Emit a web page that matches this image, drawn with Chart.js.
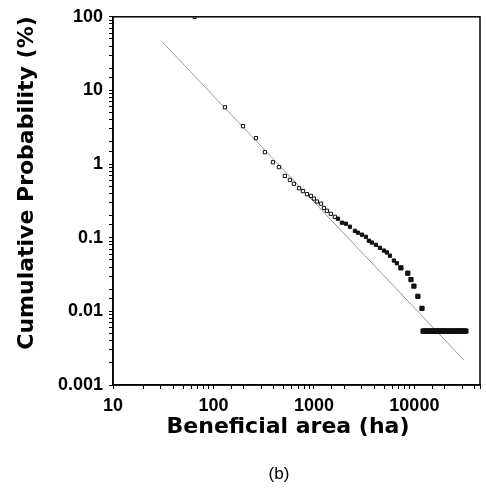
<!DOCTYPE html>
<html>
<head>
<meta charset="utf-8">
<script src="https://cdn.jsdelivr.net/npm/chart.js@4"></script>
<style>
  body { margin: 0; background: #fff; }
  #wrap { position: relative; width: 486px; height: 490px; }
</style>
</head>
<body>
<div id="wrap"><canvas id="chart1" width="486" height="490"></canvas></div>
<script>
// observed points (area in ha, cumulative probability in %)
const areaHa = [65, 130, 197, 265, 325, 391, 449, 514, 577, 632, 710, 778, 852, 934, 1000,
  1071, 1175, 1259, 1347, 1476, 1618, 1734, 1901, 2080, 2282, 2560, 2743, 3007, 3290, 3525,
  3777, 4140, 4540, 4977, 5326, 5708, 6253, 6700, 7345, 8600, 9250, 9900, 10840, 11900,
  12200, 12600, 12900, 13300, 13700, 14100, 14500, 15000, 15400, 15900, 16300, 16800, 17300,
  17800, 18300, 18900, 19400, 20000, 20600, 21200, 21800, 22400, 23100, 23800, 24500, 25200,
  26000, 26700, 27500, 28300, 29200, 30000, 30900, 31700, 32600];
const cumProb = [100, 5.9, 3.27, 2.25, 1.45, 1.06, 0.91, 0.69, 0.61, 0.54, 0.47, 0.43, 0.39, 0.37, 0.34,
  0.31, 0.29, 0.254, 0.232, 0.211, 0.192, 0.181, 0.16, 0.155, 0.141, 0.124, 0.117, 0.11, 0.103, 0.091,
  0.086, 0.08, 0.073, 0.067, 0.063, 0.057, 0.049, 0.045, 0.039, 0.033, 0.027, 0.022, 0.016, 0.011,
  0.0054, 0.0054, 0.0054, 0.0054, 0.0054, 0.0054, 0.0054, 0.0054, 0.0054, 0.0054, 0.0054, 0.0054, 0.0054,
  0.0054, 0.0054, 0.0054, 0.0054, 0.0054, 0.0054, 0.0054, 0.0054, 0.0054, 0.0054, 0.0054, 0.0054, 0.0054,
  0.0054, 0.0054, 0.0054, 0.0054, 0.0054, 0.0054, 0.0054, 0.0054, 0.0054];

// fitted power-law line end points
const fitArea = [30.8, 31100];
const fitProb = [45.9, 0.00218];

const xTitle = "Beneficial area (ha)";
const yTitle = "Cumulative Probability (%)";
const panelLabel = "(b)";

const tickFont = { family: "'Liberation Sans', Arial, sans-serif", size: 18, weight: 'bold' };

function decadeLabel(v) {
  const l = Math.log10(v);
  return Math.abs(l - Math.round(l)) < 1e-6 ? String(v) : '';
}

// frame + axis titles + panel label
const framePlugin = {
  id: 'frame',
  afterDraw(chart) {
    const { ctx, chartArea: a } = chart;
    ctx.save();
    ctx.strokeStyle = '#000';
    ctx.lineWidth = 1.5;
    ctx.strokeRect(a.left, a.top, a.right - a.left, a.bottom - a.top);

    ctx.fillStyle = '#000';
    ctx.textAlign = 'center';
    ctx.textBaseline = 'middle';
    ctx.font = "17px 'Liberation Sans', Arial, sans-serif";
    ctx.fillText(panelLabel, 279, 474);

    ctx.font = "bold 22px 'DejaVu Sans', Verdana, sans-serif";
    ctx.fillText(xTitle, 288, 427);

    ctx.translate(27, 183);
    ctx.rotate(-Math.PI / 2);
    ctx.fillText(yTitle, 0, 0);
    ctx.restore();
  }
};

new Chart(document.getElementById("chart1"), {
  type: 'scatter',
  data: {
    datasets: [
      {
        label: 'fit',
        data: fitArea.map((x, i) => ({ x, y: fitProb[i] })),
        showLine: true,
        borderColor: '#9a9a9a',
        borderWidth: 1,
        pointRadius: 0,
        order: 2
      },
      {
        label: 'observed',
        data: areaHa.map((x, i) => ({ x, y: cumProb[i] })),
        pointStyle: 'rect',
        pointRadius: c => (c.raw && c.raw.x >= 7000 ? 3 : 2.3),
        borderColor: '#111',
        borderWidth: 1,
        pointBackgroundColor: c => (c.raw && c.raw.x >= 1700 ? '#111' : '#fff'),
        order: 1
      }
    ]
  },
  options: {
    responsive: false,
    animation: false,
    layout: { padding: { top: 15, right: 6, bottom: 0, left: 0 } },
    plugins: {
      legend: { display: false },
      tooltip: { enabled: false }
    },
    scales: {
      x: {
        type: 'logarithmic',
        min: 10,
        max: 45000,
        afterFit: s => { s.height = 105; },
        grid: { display: true, drawOnChartArea: false, color: '#000', tickLength: 4 },
        border: { display: true, color: '#000', width: 1.5 },
        ticks: { autoSkip: false, maxRotation: 0, color: '#000', font: tickFont, padding: 6, callback: decadeLabel }
      },
      y: {
        type: 'logarithmic',
        min: 0.001,
        max: 100,
        afterFit: s => { s.width = 113; },
        grid: { display: true, drawOnChartArea: false, color: '#000', tickLength: 4 },
        border: { display: true, color: '#000', width: 1.5 },
        ticks: { autoSkip: false, color: '#000', font: tickFont, padding: 6, callback: decadeLabel }
      }
    }
  },
  plugins: [framePlugin]
});
</script>
</body>
</html>
